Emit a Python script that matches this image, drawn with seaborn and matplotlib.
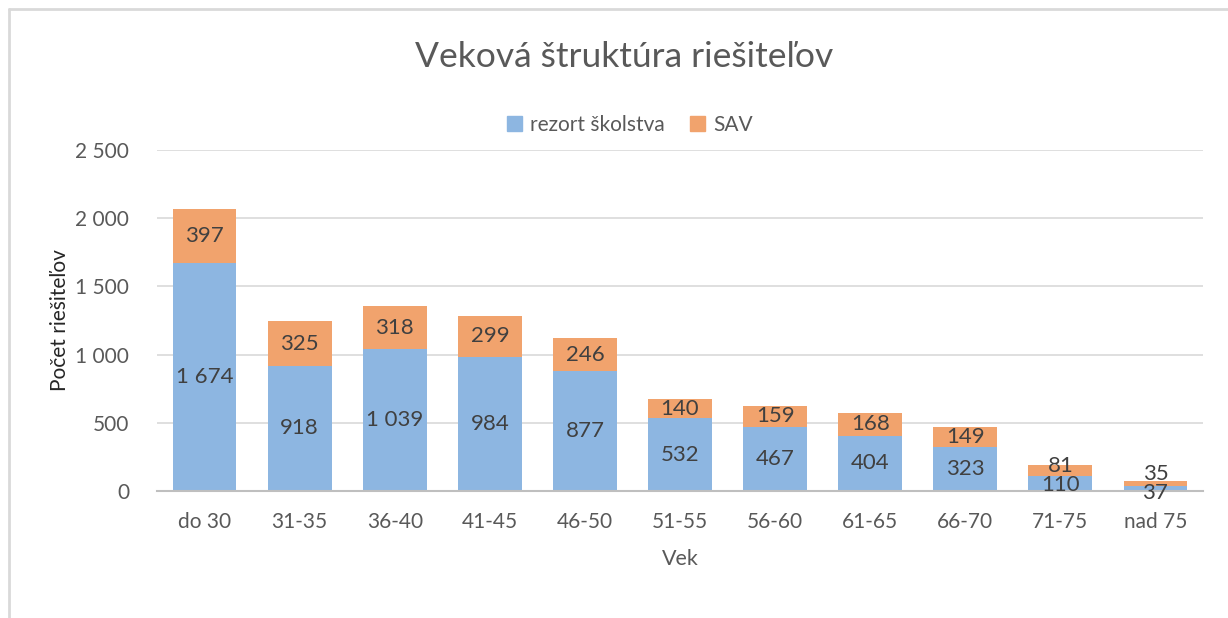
import matplotlib
matplotlib.use("Agg")
import matplotlib.pyplot as plt
import matplotlib.ticker as mticker
import numpy as np
import pandas as pd
import seaborn as sns

# data
age_groups = ["do 30", "31-35", "36-40", "41-45", "46-50", "51-55",
              "56-60", "61-65", "66-70", "71-75", "nad 75"]
rezort = [1674, 918, 1039, 984, 877, 532, 467, 404, 323, 110, 37]
sav = [397, 325, 318, 299, 246, 140, 159, 168, 149, 81, 35]

BLUE = "#8DB6E1"
ORANGE = "#F1A36D"
TXT = "#595959"
LBL = "#404040"

sns.set_theme(style="white")
plt.rcParams["font.family"] = ["Lato", "DejaVu Sans"]


def space_thousands(v):
    return f"{int(round(v)):,}".replace(",", " ")


df = pd.DataFrame({"vek": age_groups, "rezort": rezort, "sav": sav})

fig = plt.figure(figsize=(12.28, 6.18), dpi=100)
ax = fig.add_axes([0.1279, 0.2055, 0.8517, 0.5518])

sns.barplot(data=df, x="vek", y="rezort", color=BLUE, width=0.67,
            saturation=1, linewidth=0, ax=ax)
ax.bar(np.arange(len(df)), df["sav"], bottom=df["rezort"], width=0.67,
       color=ORANGE, linewidth=0)

# value labels centred in each segment; tiny segments get nudged apart
for i, (r, s) in enumerate(zip(rezort, sav)):
    r_off, s_off = 0, 0
    if s < 60:
        r_off, s_off = -3, 7
    elif s < 100:
        r_off, s_off = -1, 3
    ax.annotate(space_thousands(r), (i, r / 2), xytext=(0, r_off),
                textcoords="offset points", ha="center", va="center",
                fontsize=16, color=LBL)
    ax.annotate(space_thousands(s), (i, r + s / 2), xytext=(0, s_off),
                textcoords="offset points", ha="center", va="center",
                fontsize=16, color=LBL)

ax.set_ylim(0, 2500)
ax.set_xlim(-0.5, len(df) - 0.5)
ax.yaxis.set_major_locator(mticker.MultipleLocator(500))
ax.yaxis.set_major_formatter(mticker.FuncFormatter(lambda v, p: space_thousands(v)))
ax.grid(axis="y", color="#D9D9D9", linewidth=1.2)
ax.set_axisbelow(True)
for sp in ["top", "right", "left"]:
    ax.spines[sp].set_visible(False)
ax.spines["bottom"].set_color("#BFBFBF")
ax.spines["bottom"].set_linewidth(1.5)
ax.tick_params(axis="both", length=0, labelsize=15, labelcolor=TXT)
ax.tick_params(axis="y", pad=20)
ax.tick_params(axis="x", pad=15)

ax.set_xlabel("Vek", fontsize=15.5, color=TXT, labelpad=12)
ax.set_ylabel("Počet riešiteľov", fontsize=15, color="#262626", labelpad=4)

fig.text(0.508, 0.908, "Veková štruktúra riešiteľov", ha="center", va="center",
         fontsize=25.5, color=TXT)
handles = [plt.Rectangle((0, 0), 1, 1, color=BLUE),
           plt.Rectangle((0, 0), 1, 1, color=ORANGE)]
fig.legend(handles, ["rezort školstva", "SAV"], loc="center",
           bbox_to_anchor=(0.513, 0.798), ncol=2, frameon=False,
           fontsize=15, labelcolor=TXT, handlelength=0.7, handleheight=0.7,
           columnspacing=1.2, handletextpad=0.4)

# outer chart frame (left and top edges visible in the reference)
fig.add_artist(plt.Line2D([0.0073, 0.0073], [0, 0.985], color="#D9D9D9",
                          linewidth=2, transform=fig.transFigure))
fig.add_artist(plt.Line2D([0.0073, 1], [0.985, 0.985], color="#D9D9D9",
                          linewidth=2, transform=fig.transFigure))

fig.savefig("out.png", dpi=100, facecolor="white")
